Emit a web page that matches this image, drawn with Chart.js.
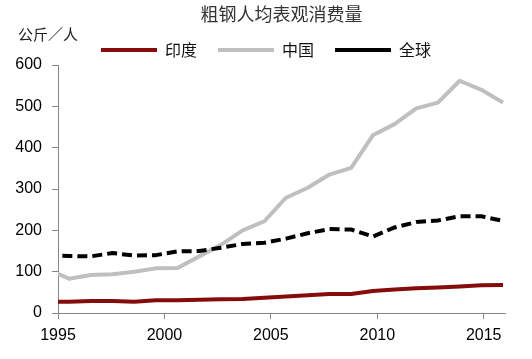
<!DOCTYPE html>
<html>
<head>
<meta charset="utf-8">
<script src="https://cdn.jsdelivr.net/npm/chart.js@4.4.0/dist/chart.umd.min.js"></script>
<style>
  html, body { margin: 0; padding: 0; background: #fff; }
</style>
</head>
<body>
<canvas id="steelChart" width="532" height="359"></canvas>
<script>
// per-capita apparent crude steel use, kg per person
// 1994 only shows as the clipped stub at the left edge
var years = [1994, 1995, 1996, 1997, 1998, 1999, 2000, 2001, 2002, 2003, 2004,
             2005, 2006, 2007, 2008, 2009, 2010, 2011, 2012, 2013, 2014, 2015];
var india = [27.5, 27.5, 29, 29, 27.5, 31, 31, 32, 33, 34, 37,
             40, 43, 46, 46, 53, 57, 60, 62, 64, 67, 68];
var china = [106, 83, 92, 94, 100, 108, 109, 137, 165, 200, 222,
             279, 303, 335, 351, 430, 457, 495, 509, 562, 540, 509];
var world = [140, 138, 137, 145, 139, 140, 149, 150, 158, 167, 170,
             180, 193, 203, 202, 185, 207, 220, 224, 234, 234, 223];
var seriesNames = ['印度', '中国', '全球'];
var xTicks = [1995, 2000, 2005, 2010, 2015];
var yTicks = [0, 100, 200, 300, 400, 500, 600];

var axisGrey = '#868686';
var tickFont = { family: 'Liberation Sans', size: 16 };
var cjk = 'Noto Sans CJK SC';

function pts(vals) {
  return years.map(function(y, i) { return { x: y, y: vals[i] }; });
}

// unit text above the y axis
var unitLabel = {
  id: 'unitLabel',
  afterDraw: function(chart) {
    var ctx = chart.ctx;
    ctx.save();
    ctx.font = '15px "' + cjk + '"';
    ctx.fillStyle = '#222';
    ctx.textBaseline = 'middle';
    ctx.fillText('公斤／人', 18, 34);
    ctx.restore();
  }
};

var ctx = document.getElementById('steelChart').getContext('2d');
new Chart(ctx, {
  type: 'line',
  data: {
    datasets: [{
      label: seriesNames[0],
      data: pts(india),
      xAxisID: 'xd',
      borderColor: '#860c0c',
      backgroundColor: '#860c0c',
      borderWidth: 4,
      order: 2
    }, {
      label: seriesNames[1],
      data: pts(china),
      xAxisID: 'xd',
      borderColor: '#bfbfbf',
      backgroundColor: '#bfbfbf',
      borderWidth: 4,
      order: 1
    }, {
      label: seriesNames[2],
      data: pts(world),
      xAxisID: 'xd',
      borderColor: '#000',
      backgroundColor: '#000',
      borderWidth: 4,
      borderDash: [10, 5],
      order: 0
    }]
  },
  options: {
    responsive: false,
    animation: false,
    events: [],
    layout: { padding: 0 },
    elements: {
      point: { radius: 0, pointStyle: 'line' },
      line: { tension: 0, borderCapStyle: 'butt', borderJoinStyle: 'round' }
    },
    scales: {
      // visible year axis
      x: {
        type: 'linear',
        position: 'bottom',
        min: 1995,
        max: 2016,
        afterBuildTicks: function(s) {
          s.ticks = xTicks.map(function(v) { return { value: v }; });
        },
        ticks: {
          autoSkip: false,
          maxRotation: 0,
          padding: 7,
          color: '#000',
          font: tickFont,
          callback: function(v) { return String(v); }
        },
        grid: { drawOnChartArea: false, drawTicks: true, tickLength: 6, color: axisGrey },
        border: { display: true, color: axisGrey, width: 1 },
        afterFit: function(s) { s.height = 46; }
      },
      // data sits half a step in from the axis ends, like the original
      xd: {
        type: 'linear',
        position: 'bottom',
        display: false,
        min: 1994.49,
        max: 2015.09
      },
      y: {
        min: 0,
        max: 600,
        afterBuildTicks: function(s) {
          s.ticks = yTicks.map(function(v) { return { value: v }; });
        },
        ticks: {
          padding: 10,
          color: '#000',
          font: tickFont
        },
        grid: { drawOnChartArea: false, drawTicks: true, tickLength: 6, color: axisGrey },
        border: { display: true, color: axisGrey, width: 1 },
        afterFit: function(s) { s.width = 58; }
      },
      // empty right-hand spacer so the plot stops where the original does
      spacer: {
        type: 'linear',
        axis: 'y',
        position: 'right',
        ticks: { display: false },
        grid: { display: false },
        border: { display: false },
        afterFit: function(s) { s.width = 27; }
      }
    },
    plugins: {
      title: {
        display: true,
        text: '粗钢人均表观消费量',
        fullSize: false,
        color: '#333',
        font: { family: cjk, size: 18, weight: 'normal', lineHeight: 0.78 },
        padding: { top: 7, bottom: 0 }
      },
      legend: {
        display: true,
        position: 'top',
        maxHeight: 44,
        labels: {
          usePointStyle: true,
          pointStyleWidth: 56,
          padding: 21,
          color: '#111',
          font: { family: cjk, size: 16 },
          sort: function(a, b) { return a.datasetIndex - b.datasetIndex; }
        }
      },
      tooltip: { enabled: false }
    }
  },
  plugins: [unitLabel]
});
</script>
</body>
</html>
